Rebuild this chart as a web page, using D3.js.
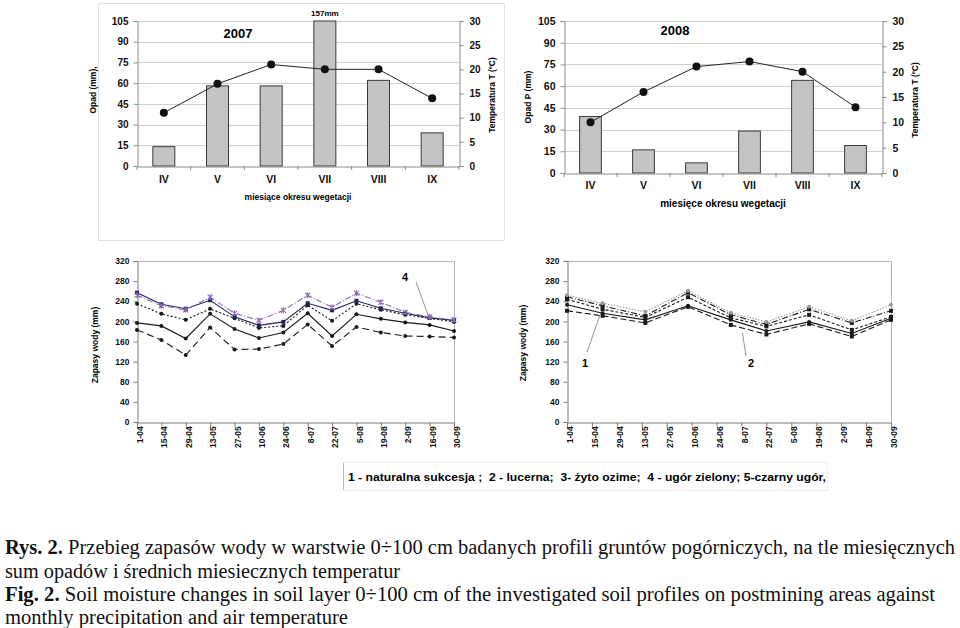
<!DOCTYPE html>
<html><head><meta charset="utf-8">
<script src="https://cdn.jsdelivr.net/npm/d3@7"></script>
<style>
body{margin:0;background:#fff;}
svg{display:block;}
text{font-family:"Liberation Sans",Arial,sans-serif;}
</style></head>
<body>
<svg id="c" width="960" height="628"></svg>
<script>
// ---------- DATA ----------
const months = ["IV","V","VI","VII","VIII","IX"];
const rain2007 = [14, 58, 58, 157, 62, 24];
const temp2007 = [11, 17, 21, 20, 20, 14];
const rain2008 = [39, 16, 7, 29, 64, 19];
const temp2008 = [10, 16, 21, 22, 20, 13];
const rainTicks = [0, 15, 30, 45, 60, 75, 90, 105];
const tempTicks = [0, 5, 10, 15, 20, 25, 30];
const moistTicks = [0, 40, 80, 120, 160, 200, 240, 280, 320];
const dateTicks = ["1-04","15-04","29-04","13-05","27-05","10-06","24-06","8-07","22-07","5-08","19-08","2-09","16-09","30-09"];

const dates2007 = ["1-04","15-04","29-04","13-05","27-05","10-06","24-06","8-07","22-07","5-08","19-08","2-09","16-09","30-09"];
const m2007_a = [257, 234, 225, 242, 209, 192, 199, 236, 222, 241, 226, 216, 207, 202];
const m2007_b = [252, 231, 223, 248, 216, 202, 222, 252, 228, 256, 238, 218, 209, 203];
const m2007_c = [235, 215, 203, 225, 206, 187, 191, 232, 201, 235, 223, 213, 206, 199];
const m2007_d = [197, 191, 166, 215, 185, 167, 178, 216, 171, 214, 205, 198, 193, 181];
const m2007_e = [183, 163, 133, 188, 144, 145, 155, 194, 151, 189, 178, 171, 170, 168];

const dates2008 = ["1-04","21-04","15-05","8-06","2-07","22-07","15-08","8-09","30-09"];
const m2008_a = [252, 236, 219, 261, 217, 199, 229, 201, 233];
const m2008_b = [249, 231, 211, 257, 213, 194, 224, 197, 221];
const m2008_c = [244, 224, 208, 248, 207, 190, 213, 183, 209];
const m2008_d = [233, 216, 203, 231, 203, 181, 199, 176, 206];
const m2008_e = [221, 211, 197, 229, 193, 174, 195, 170, 203];

const legendText = "1 - naturalna sukcesja ;  2 - lucerna;  3- żyto ozime;  4 - ugór zielony; 5-czarny ugór,";

// ---------- DRAW ----------
const svg = d3.select("#c");
const BOLD = "bold";

// faint panel frame around top-left chart
svg.append("rect").attr("x",98.5).attr("y",3.5).attr("width",406).attr("height",237)
  .attr("fill","none").attr("stroke","#e2e2e2");

function topChart(o){
  const g = svg.append("g");
  const x = d3.scaleBand().domain(months).range([o.x0,o.x1]).paddingInner(0.59).paddingOuter(0.295);
  const xb = d3.scaleBand().domain(months).range([o.x0,o.x1]);
  const y = d3.scaleLinear().domain([0,105]).range([o.y1,o.y0]).clamp(true);
  const yt = d3.scaleLinear().domain([0,30]).range([o.y1,o.y0]);
  g.selectAll(".gl").data(rainTicks.filter(d=>d>0)).join("line")
    .attr("x1",o.x0).attr("x2",o.x1).attr("y1",d=>Math.round(y(d))+0.5).attr("y2",d=>Math.round(y(d))+0.5)
    .attr("stroke","#cfcfcf").attr("stroke-width",1);
  g.selectAll(".bar").data(o.rain).join("rect")
    .attr("x",(d,i)=>x(months[i])).attr("width",x.bandwidth())
    .attr("y",d=>y(d)).attr("height",d=>y(0)-y(d))
    .attr("fill","#c4c4c4").attr("stroke","#3a3a3a").attr("stroke-width",1);
  const la = g.append("g").attr("transform",`translate(${o.x0+0.5},0)`)
    .call(d3.axisLeft(y).tickValues(rainTicks).tickSize(4).tickPadding(5));
  const ra = g.append("g").attr("transform",`translate(${o.x1+0.5},0)`)
    .call(d3.axisRight(yt).tickValues(tempTicks).tickSize(4).tickPadding(6));
  const ba = g.append("g").attr("transform",`translate(0,${o.y1+0.5})`)
    .call(d3.axisBottom(xb).tickSize(0).tickPadding(o.mPad));
  [la,ra,ba].forEach(a=>{
    a.select(".domain").attr("stroke","#8a8a8a");
    a.selectAll(".tick line").attr("stroke","#8a8a8a");
    a.selectAll("text").attr("font-size",o.tickFs).attr("font-weight",BOLD).attr("fill","#111")
      .style("font-family","'Liberation Sans',Arial,sans-serif");
  });
  ba.selectAll("text").attr("font-size",o.monFs);
  g.selectAll(".bt").data(d3.range(months.length+1)).join("line")
    .attr("x1",i=>o.x0+i*xb.step()).attr("x2",i=>o.x0+i*xb.step())
    .attr("y1",o.y1).attr("y2",o.y1+4).attr("stroke","#8a8a8a");
  const line = d3.line().x((d,i)=>xb(months[i])+xb.bandwidth()/2).y(d=>yt(d));
  g.append("path").datum(o.temp).attr("d",line).attr("fill","none").attr("stroke","#222").attr("stroke-width",1);
  g.selectAll(".dot").data(o.temp).join("circle")
    .attr("cx",(d,i)=>xb(months[i])+xb.bandwidth()/2).attr("cy",d=>yt(d)).attr("r",4).attr("fill","#111");
  g.append("text").attr("x",o.titleX).attr("y",o.titleY).attr("text-anchor","middle")
    .attr("font-size",13).attr("font-weight",BOLD).text(o.title);
  g.append("text").attr("x",o.xlabX).attr("y",o.xlabY).attr("text-anchor","middle")
    .attr("font-size",o.xlabFs).attr("font-weight",BOLD).text(o.xlab);
  g.append("text").attr("transform",`translate(${o.ylabX},${o.ylabY}) rotate(-90)`).attr("text-anchor","middle")
    .attr("font-size",8.5).attr("font-weight",BOLD).text(o.ylab);
  g.append("text").attr("transform",`translate(${o.y2labX},${o.y2labY}) rotate(-90)`).attr("text-anchor","middle")
    .attr("font-size",8.5).attr("font-weight",BOLD).text("Temperatura T (ºC)");
  o.rain.forEach((d,i)=>{
    if(d>105){
      g.append("text").attr("x",xb(months[i])+xb.bandwidth()/2).attr("y",o.y0-5).attr("text-anchor","middle")
        .attr("font-size",8).attr("font-weight",BOLD).text(d+"mm");
    }
  });
}

topChart({x0:137,x1:459,y0:21,y1:166,rain:rain2007,temp:temp2007,title:"2007",titleX:238,titleY:38,
  xlab:"miesiące okresu wegetacji",xlabX:298,xlabY:200,xlabFs:8.5,ylab:"Opad  (mm),",ylabX:96,ylabY:90,
  y2labX:495,y2labY:95,tickFs:10,monFs:10.5,mPad:9});
topChart({x0:564,x1:882,y0:21,y1:173,rain:rain2008,temp:temp2008,title:"2008",titleX:675,titleY:35,
  xlab:"miesięce okresu wegetacji",xlabX:723,xlabY:207,xlabFs:10,ylab:"Opad P (mm)",ylabX:531,ylabY:97,
  y2labX:918,y2labY:100,tickFs:10.5,monFs:10.5,mPad:8});

// ---------- bottom charts ----------
function parseD(s,yr){ const [d,m]=s.split("-"); return new Date(yr, +m-1, +d); }

function bottomChart(o){
  const g = svg.append("g");
  const x = d3.scaleTime().domain([parseD("1-04",o.yr),parseD("30-09",o.yr)]).range([o.x0,o.x1]);
  const y = d3.scaleLinear().domain([0,320]).range([o.y1,o.y0]);
  g.append("path").attr("d",`M${o.x0},${o.y0+0.5}H${o.x1+0.5}V${o.y1}`).attr("fill","none").attr("stroke","#b5b5b5");
  const la = g.append("g").attr("transform",`translate(${o.x0+0.5},0)`)
    .call(d3.axisLeft(y).tickValues(moistTicks).tickSize(4).tickPadding(4));
  const tickDates = dateTicks.map(s=>parseD(s,o.yr));
  const ba = g.append("g").attr("transform",`translate(0,${o.y1+0.5})`)
    .call(d3.axisBottom(x).tickValues(tickDates).tickSize(4).tickPadding(4).tickFormat((d,i)=>dateTicks[i]));
  [la,ba].forEach(a=>{
    a.select(".domain").attr("stroke","#7a7a7a");
    a.selectAll(".tick line").attr("stroke","#7a7a7a");
    a.selectAll("text").attr("font-size",8.5).attr("font-weight",BOLD).attr("fill","#111")
      .style("font-family","'Liberation Sans',Arial,sans-serif");
  });
  ba.selectAll("text").attr("transform","rotate(-90)").attr("text-anchor","end")
    .attr("dx","-0.45em").attr("dy","-0.05em").attr("y",3).attr("x",0)
    .attr("dominant-baseline","central");
  const dates = o.dates.map(s=>parseD(s,o.yr));
  o.series.forEach(s=>{
    const pts = s.v.map((v,i)=>[x(dates[i]),y(v)]);
    g.append("path").datum(pts).attr("d",d3.line()).attr("fill","none")
      .attr("stroke",s.c).attr("stroke-width",s.w||1.1).attr("stroke-dasharray",s.dash||null);
    pts.forEach(p=>{
      if(s.m==="sq") g.append("rect").attr("x",p[0]-2).attr("y",p[1]-2).attr("width",4).attr("height",4).attr("fill",s.c);
      else if(s.m==="x"){
        g.append("path").attr("d",`M${p[0]-2.5},${p[1]-2.5}L${p[0]+2.5},${p[1]+2.5}M${p[0]-2.5},${p[1]+2.5}L${p[0]+2.5},${p[1]-2.5}M${p[0]},${p[1]-3}V${p[1]+3}`)
          .attr("stroke",s.c).attr("stroke-width",1.1);
      } else g.append("circle").attr("cx",p[0]).attr("cy",p[1]).attr("r",s.r||2).attr("fill",s.c);
    });
  });
  g.append("text").attr("transform",`translate(${o.ylabX},${o.ylabY}) rotate(-90)`).attr("text-anchor","middle")
    .attr("font-size",8.5).attr("font-weight",BOLD).text("Zapasy wody (mm)");
  return {g,x,y};
}

bottomChart({yr:2007,x0:137,x1:454,y0:261,y1:422,dates:dates2007,ylabX:98,ylabY:345,series:[
  {v:m2007_e,c:"#1a1a1a",dash:"7,4",m:"c"},
  {v:m2007_d,c:"#1a1a1a",m:"c"},
  {v:m2007_c,c:"#1a1a1a",dash:"2,2",m:"c"},
  {v:m2007_a,c:"#22225e",m:"sq"},
  {v:m2007_b,c:"#8c6cb0",dash:"6,2,1,2",m:"x"}
]});
bottomChart({yr:2008,x0:567,x1:891,y0:261,y1:422,dates:dates2008,ylabX:526,ylabY:343,series:[
  {v:m2008_e,c:"#1a1a1a",dash:"6,3",m:"sq"},
  {v:m2008_d,c:"#1a1a1a",m:"c"},
  {v:m2008_c,c:"#1a1a1a",dash:"3,2",m:"sq"},
  {v:m2008_b,c:"#1a1a1a",dash:"6,2,1,2",m:"sq"},
  {v:m2008_a,c:"#9a9a9a",dash:"1.5,1.5",m:"c"}
]});

// annotations
svg.append("text").attr("x",405).attr("y",281).attr("text-anchor","middle").attr("font-size",11).attr("font-weight",BOLD).text("4");
svg.append("line").attr("x1",416).attr("y1",282).attr("x2",428).attr("y2",315).attr("stroke","#777").attr("stroke-width",0.8);
svg.append("text").attr("x",585).attr("y",367).attr("text-anchor","middle").attr("font-size",11).attr("font-weight",BOLD).text("1");
svg.append("line").attr("x1",587).attr("y1",352).attr("x2",600).attr("y2",315).attr("stroke","#777").attr("stroke-width",0.8);
svg.append("text").attr("x",751).attr("y",367).attr("text-anchor","middle").attr("font-size",11).attr("font-weight",BOLD).text("2");
svg.append("line").attr("x1",746).attr("y1",356).attr("x2",742.5).attr("y2",333).attr("stroke","#777").attr("stroke-width",0.8);

// legend box
svg.append("rect").attr("x",343.5).attr("y",462.5).attr("width",484).attr("height",28)
  .attr("fill","none").attr("stroke","#ececec");
svg.append("line").attr("x1",343.5).attr("x2",343.5).attr("y1",463).attr("y2",490).attr("stroke","#bdbdbd");
svg.append("text").attr("x",348).attr("y",481).attr("font-size",10.5).attr("font-weight",BOLD)
  .attr("textLength",478).attr("lengthAdjust","spacingAndGlyphs").attr("xml:space","preserve").text(legendText);

// caption
const cap = [
  {b:"Rys. 2.", t:" Przebieg zapasów wody w warstwie 0÷100 cm badanych profili gruntów pogórniczych, na tle miesięcznych", y:554, w:950},
  {b:"", t:"sum opadów i średnich miesiecznych temperatur", y:578, w:395},
  {b:"Fig. 2.", t:" Soil moisture changes in soil layer 0÷100 cm of the investigated soil profiles on postmining areas against", y:601, w:930},
  {b:"", t:"monthly precipitation and air temperature", y:624, w:343}
];
cap.forEach(c=>{
  const t = svg.append("text").attr("x",5).attr("y",c.y).attr("font-size",20.5)
    .style("font-family","'Liberation Serif','Times New Roman',serif").attr("fill","#111")
    .attr("textLength",c.w).attr("lengthAdjust","spacingAndGlyphs").attr("xml:space","preserve");
  if(c.b) t.append("tspan").attr("font-weight","bold").text(c.b);
  t.append("tspan").text(c.t);
});
</script>
</body></html>
